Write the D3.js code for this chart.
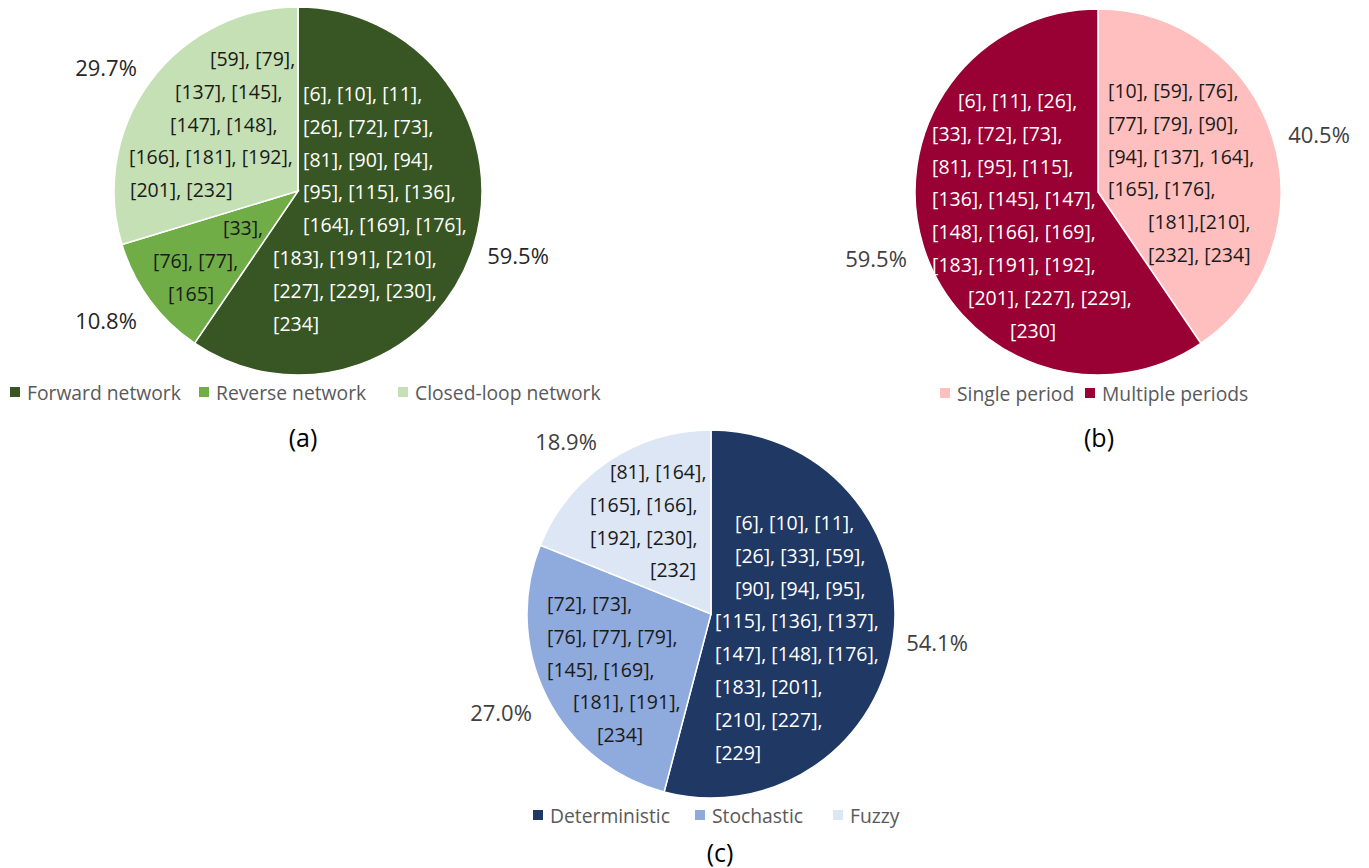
<!DOCTYPE html>
<html>
<head>
<meta charset="utf-8">
<script src="https://cdn.jsdelivr.net/npm/d3@7"></script>
<style>
  html, body { margin: 0; padding: 0; background: #fff; }
  svg { display: block; font-family: "Open Sans", "Noto Sans", sans-serif; }
</style>
</head>
<body>
<svg id="chart" width="1369" height="868"></svg>
<script>
// ---------- DATA ----------
const networkCategories = ["Forward network", "Reverse network", "Closed-loop network"];
const networkValues = [59.5, 10.8, 29.7];
const networkLabels = [
  ["[6], [10], [11],", "[26], [72], [73],", "[81], [90], [94],", "[95], [115], [136],",
   "[164], [169], [176],", "[183], [191], [210],", "[227], [229], [230],", "[234]"],
  ["[33],", "[76], [77],", "[165]"],
  ["[59], [79],", "[137], [145],", "[147], [148],", "[166], [181], [192],", "[201], [232]"]
];

const periodCategories = ["Single period", "Multiple periods"];
const periodValues = [40.5, 59.5];
const periodLabels = [
  ["[10], [59], [76],", "[77], [79], [90],", "[94], [137], 164],", "[165], [176],",
   "[181],[210],", "[232], [234]"],
  ["[6], [11], [26],", "[33], [72], [73],", "[81], [95], [115],", "[136], [145], [147],",
   "[148], [166], [169],", "[183], [191], [192],", "[201], [227], [229],", "[230]"]
];

const uncertaintyCategories = ["Deterministic", "Stochastic", "Fuzzy"];
const uncertaintyValues = [54.1, 27.0, 18.9];
const uncertaintyLabels = [
  ["[6], [10], [11],", "[26], [33], [59],", "[90], [94], [95],", "[115], [136], [137],",
   "[147], [148], [176],", "[183], [201],", "[210], [227],", "[229]"],
  ["[72], [73],", "[76], [77], [79],", "[145], [169],", "[181], [191],", "[234]"],
  ["[81], [164],", "[165], [166],", "[192], [230],", "[232]"]
];

const panelTitles = ["(a)", "(b)", "(c)"];

// ---------- LAYOUT / STYLE ----------
const panels = [
  {
    cats: networkCategories, vals: networkValues, labels: networkLabels, title: panelTitles[0],
    cx: 298, cy: 191, r: 184,
    colors: ["#375623", "#70AD47", "#C5E0B4"],
    textColors: ["#ffffff", "#1a1a1a", "#1a1a1a"],
    pctColor: "#262626",
    labelPos: [
      { y: -98, dx: [5, 5, 5, 5, 5, -25, -25, -25] },
      { y: 36, dx: [-75, -145, -130] },
      { y: -133, dx: [-88, -123, -128, -169, -168] }
    ],
    pctPos: [[220, 64], [-192, 129], [-192, -124]],
    legend: { y: 392, x: [10, 199, 398] },
    titlePos: [303, 437]
  },
  {
    cats: periodCategories, vals: periodValues, labels: periodLabels, title: panelTitles[1],
    cx: 1098, cy: 192, r: 183,
    colors: ["#FFBFBF", "#990033"],
    textColors: ["#1a1a1a", "#ffffff"],
    pctColor: "#404040",
    labelPos: [
      { y: -102, dx: [10, 10, 10, 10, 50, 50] },
      { y: -92, dx: [-140, -166, -166, -166, -166, -166, -130, -88] }
    ],
    pctPos: [[221, -58], [-222, 66]],
    legend: { y: 393, x: [940, 1085] },
    titlePos: [1099, 437]
  },
  {
    cats: uncertaintyCategories, vals: uncertaintyValues, labels: uncertaintyLabels, title: panelTitles[2],
    cx: 711, cy: 614, r: 184,
    colors: ["#203864", "#8FAADC", "#DCE6F4"],
    textColors: ["#ffffff", "#1a1a1a", "#1a1a1a"],
    pctColor: "#404040",
    labelPos: [
      { y: -92, dx: [24, 24, 24, 4, 4, 4, 4, 4] },
      { y: -11, dx: [-164, -164, -164, -138, -114] },
      { y: -143, dx: [-101, -121, -121, -61] }
    ],
    pctPos: [[226, 28], [-210, 98], [-145, -173]],
    legend: { y: 815, x: [533, 695, 833] },
    titlePos: [720, 852]
  }
];

const LINE_STEP = 32.8;
const svg = d3.select("#chart");

panels.forEach(p => {
  const g = svg.append("g").attr("transform", `translate(${p.cx},${p.cy})`);
  const pie = d3.pie().sort(null).value(d => d)(p.vals);
  const arc = d3.arc().innerRadius(0).outerRadius(p.r);
  const color = d3.scaleOrdinal().domain(p.cats).range(p.colors);

  g.selectAll("path.slice").data(pie).join("path")
    .attr("class", "slice")
    .attr("d", arc)
    .attr("fill", (d, i) => color(p.cats[i]))
    .attr("stroke", "#ffffff")
    .attr("stroke-width", 1.5);

  // in-slice reference labels
  pie.forEach((d, i) => {
    const pos = p.labelPos[i];
    const t = g.append("text")
      .attr("fill", p.textColors[i])
      .attr("font-size", 19.5)
      .attr("dominant-baseline", "central");
    p.labels[i].forEach((line, k) => {
      t.append("tspan")
        .attr("x", pos.dx[k])
        .attr("y", pos.y + k * LINE_STEP)
        .text(line);
    });
  });

  // percentage labels
  pie.forEach((d, i) => {
    g.append("text")
      .attr("x", p.pctPos[i][0])
      .attr("y", p.pctPos[i][1])
      .attr("text-anchor", "middle")
      .attr("dominant-baseline", "central")
      .attr("font-size", 22)
      .attr("fill", p.pctColor)
      .text(d3.format(".1f")(d.data) + "%");
  });

  // legend
  const lg = svg.append("g");
  p.cats.forEach((c, i) => {
    const x = p.legend.x[i];
    lg.append("rect")
      .attr("x", x).attr("y", p.legend.y - 5)
      .attr("width", 10).attr("height", 10)
      .attr("fill", color(c));
    lg.append("text")
      .attr("x", x + 17).attr("y", p.legend.y)
      .attr("dominant-baseline", "central")
      .attr("font-size", 19.3)
      .attr("fill", "#595959")
      .text(c);
  });

  // panel title
  svg.append("text")
    .attr("x", p.titlePos[0]).attr("y", p.titlePos[1])
    .attr("text-anchor", "middle")
    .attr("dominant-baseline", "central")
    .attr("font-size", 25)
    .attr("fill", "#000000")
    .text(p.title);
});
</script>
</body>
</html>
